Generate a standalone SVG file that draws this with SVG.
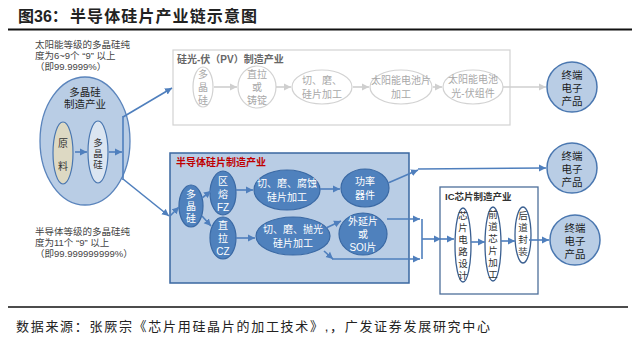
<svg xmlns="http://www.w3.org/2000/svg" width="640" height="337" viewBox="0 0 640 337">
<defs>
<marker id="ab" markerWidth="8" markerHeight="8" refX="7" refY="4" orient="auto" markerUnits="userSpaceOnUse"><path d="M0,0.5 L7,4 L0,7.5 Z" fill="#4f7fbd"/></marker>
<marker id="ag" markerWidth="8" markerHeight="8" refX="7" refY="4" orient="auto" markerUnits="userSpaceOnUse"><path d="M0,0.5 L7,4 L0,7.5 Z" fill="#cfcfcf"/></marker>
<style>
text{font-family:"Liberation Sans","Noto Sans CJK SC",sans-serif;}
.note{font-size:9.5px;fill:#444;}
.pv{fill:#fff;stroke:#d2d2d2;stroke-width:1.2;}
.pvt{font-size:10px;fill:#a8a8a8;text-anchor:middle;}
.dk{fill:#4f81bd;stroke:#3a69a4;stroke-width:1.2;}
.wt{font-size:10px;fill:#fff;text-anchor:middle;}
.ic{fill:#fff;stroke:#3a5f90;stroke-width:1.3;}
.ict{font-size:9.5px;fill:#333;text-anchor:middle;}
.cir{fill:#b9cde5;stroke:#4a77b0;stroke-width:1.5;}
.ct{font-size:10.5px;fill:#1a1a1a;text-anchor:middle;}
.bl{stroke:#4f7fbd;stroke-width:1.6;fill:none;}
.gl{stroke:#cfcfcf;stroke-width:1.6;fill:none;}
</style>
</defs>
<rect width="640" height="337" fill="#fff"/>
<g id="title">
<text x="18" y="22" font-size="16" font-weight="bold" fill="#222">图36：</text>
<text x="70" y="22" font-size="16" font-weight="bold" fill="#222" textLength="187" lengthAdjust="spacing">半导体硅片产业链示意图</text>
<line x1="8" y1="29.5" x2="632" y2="29.5" stroke="#111" stroke-width="2"/>
</g>
<g id="notes">
<text class="note" x="35" y="48">太阳能等级的多晶硅纯<tspan x="35" dy="11">度为6~9个 “9” 以上</tspan><tspan x="35" dy="11">（即99.9999%）</tspan></text>
<text class="note" x="35" y="235">半导体等级的多晶硅纯<tspan x="35" dy="11">度为11个 “9” 以上</tspan><tspan x="35" dy="11">（即99.999999999%）</tspan></text>
</g>
<g id="poly-industry">
<ellipse cx="85" cy="141" rx="45" ry="64" fill="#b9cde5" stroke="#5a84bc" stroke-width="1.3"/>
<text x="85" y="96" font-size="10.5" fill="#222" text-anchor="middle">多晶硅<tspan x="85" dy="12">制造产业</tspan></text>
</g>
<g id="raw">
<ellipse cx="63" cy="153" rx="10" ry="31" fill="#ddd9c3" stroke="#4a77b0" stroke-width="1.2"/>
<text x="63" y="147" font-size="10" fill="#333" text-anchor="middle">原<tspan x="63" dy="23">料</tspan></text>
</g>
<g id="poly-inner">
<ellipse cx="98" cy="152" rx="10" ry="31" fill="#dbe5f1" stroke="#4a77b0" stroke-width="1.2"/>
<text x="98" y="146" font-size="9.5" fill="#333" text-anchor="middle">多<tspan x="98" dy="11">晶</tspan><tspan x="98" dy="11">硅</tspan></text>
</g>
<g id="pv-box">
<rect class="pv" x="173" y="50" width="337" height="75"/>
<text x="177" y="63" font-size="10" font-weight="bold" fill="#666">硅光-伏（PV）制造产业</text>
</g>
<g id="pv1"><ellipse class="pv" cx="203" cy="87" rx="10" ry="20"/>
<text class="pvt" x="203" y="78">多<tspan x="203" dy="13">晶</tspan><tspan x="203" dy="13">硅</tspan></text></g>
<g id="pv2"><ellipse class="pv" cx="257" cy="87" rx="19" ry="21"/>
<text class="pvt" x="257" y="78">直拉<tspan x="257" dy="13">或</tspan><tspan x="257" dy="13">铸锭</tspan></text></g>
<g id="pv3"><ellipse class="pv" cx="322" cy="87" rx="30" ry="17"/>
<text class="pvt" x="322" y="84">切、磨、<tspan x="322" dy="14">硅片加工</tspan></text></g>
<g id="pv4"><ellipse class="pv" cx="401" cy="87" rx="31" ry="17"/>
<text class="pvt" x="401" y="84">太阳能电池片<tspan x="401" dy="14">加工</tspan></text></g>
<g id="pv5"><ellipse class="pv" cx="473" cy="87" rx="30" ry="17"/>
<text class="pvt" x="473" y="83">太阳能电池<tspan x="473" dy="14">光-伏组件</tspan></text></g>
<g id="semi-box">
<rect x="170" y="153" width="239" height="130" fill="#b9cde5" stroke="#3a67a0" stroke-width="1.5"/>
<text x="176" y="166" font-size="10" font-weight="bold" fill="#c00000">半导体硅片制造产业</text>
</g>
<g id="s-poly"><ellipse class="dk" cx="191" cy="206" rx="12" ry="21"/>
<text class="wt" x="191" y="198">多<tspan x="191" dy="12">晶</tspan><tspan x="191" dy="12">硅</tspan></text></g>
<g id="s-fz"><ellipse class="dk" cx="223" cy="193" rx="13" ry="22"/>
<text class="wt" x="223" y="185">区<tspan x="223" dy="13">熔</tspan><tspan x="223" dy="13">FZ</tspan></text></g>
<g id="s-cz"><ellipse class="dk" cx="223" cy="238" rx="13" ry="21"/>
<text class="wt" x="223" y="229">直<tspan x="223" dy="13">拉</tspan><tspan x="223" dy="13">CZ</tspan></text></g>
<g id="s-cut1"><ellipse class="dk" cx="287" cy="190" rx="33" ry="20"/>
<text class="wt" x="287" y="187">切、磨、腐蚀<tspan x="287" dy="14">硅片加工</tspan></text></g>
<g id="s-cut2"><ellipse class="dk" cx="293" cy="236" rx="37" ry="19"/>
<text class="wt" x="293" y="233">切、磨、抛光<tspan x="293" dy="14">硅片加工</tspan></text></g>
<g id="s-power"><ellipse class="dk" cx="365" cy="188" rx="24" ry="19"/>
<text class="wt" x="365" y="185">功率<tspan x="365" dy="14">器件</tspan></text></g>
<g id="s-epi"><ellipse class="dk" cx="363" cy="234" rx="24" ry="21"/>
<text class="wt" x="363" y="225">外延片<tspan x="363" dy="13">或</tspan><tspan x="363" dy="13">SOI片</tspan></text></g>
<g id="ic-box">
<rect x="440" y="187" width="98" height="107" fill="#fff" stroke="#4d6f9a" stroke-width="1.3"/>
<text x="445" y="200" font-size="9.5" font-weight="bold" fill="#333">IC芯片制造产业</text>
</g>
<g id="ic1"><ellipse class="ic" cx="463" cy="245" rx="8" ry="37"/>
<text class="ict" x="463" y="219">芯<tspan x="463" dy="12">片</tspan><tspan x="463" dy="12">电</tspan><tspan x="463" dy="12">路</tspan><tspan x="463" dy="12">设</tspan><tspan x="463" dy="12">计</tspan></text></g>
<g id="ic2"><ellipse class="ic" cx="493" cy="244" rx="8" ry="37"/>
<text class="ict" x="493" y="218">前<tspan x="493" dy="12">道</tspan><tspan x="493" dy="12">芯</tspan><tspan x="493" dy="12">片</tspan><tspan x="493" dy="12">加</tspan><tspan x="493" dy="12">工</tspan></text></g>
<g id="ic3"><ellipse class="ic" cx="523" cy="235" rx="8" ry="28"/>
<text class="ict" x="523" y="219">后<tspan x="523" dy="12">道</tspan><tspan x="523" dy="12">封</tspan><tspan x="523" dy="12">装</tspan></text></g>
<g id="end1"><circle class="cir" cx="572" cy="87" r="25"/>
<text class="ct" x="572" y="79">终端<tspan x="572" dy="13">电子</tspan><tspan x="572" dy="13">产品</tspan></text></g>
<g id="end2"><circle class="cir" cx="572" cy="168" r="25"/>
<text class="ct" x="572" y="160">终端<tspan x="572" dy="13">电子</tspan><tspan x="572" dy="13">产品</tspan></text></g>
<g id="end3"><circle class="cir" cx="575" cy="240" r="25"/>
<text class="ct" x="575" y="232">终端<tspan x="575" dy="13">电子</tspan><tspan x="575" dy="13">产品</tspan></text></g>
<g id="connectors">
<line class="bl" x1="75" y1="152" x2="87" y2="152" marker-end="url(#ab)"/>
<line class="bl" x1="109" y1="152" x2="122" y2="152" marker-end="url(#ab)"/>
<line class="bl" x1="123" y1="116" x2="123" y2="180"/>
<line class="bl" x1="123" y1="117" x2="172" y2="88" marker-end="url(#ab)"/>
<line class="bl" x1="123" y1="179" x2="169" y2="216" marker-end="url(#ab)"/>
<line class="bl" x1="170" y1="216" x2="179" y2="207" marker-end="url(#ab)"/>
<line class="gl" x1="214" y1="87" x2="237" y2="87" marker-end="url(#ag)"/>
<line class="gl" x1="276" y1="87" x2="291" y2="87" marker-end="url(#ag)"/>
<line class="gl" x1="353" y1="87" x2="369" y2="87" marker-end="url(#ag)"/>
<line class="gl" x1="433" y1="87" x2="442" y2="87" marker-end="url(#ag)"/>
<line class="gl" x1="503" y1="87" x2="546" y2="87" marker-end="url(#ag)"/>
<line class="bl" x1="202" y1="198" x2="211" y2="191" marker-end="url(#ab)"/>
<line class="bl" x1="202" y1="216" x2="211" y2="226" marker-end="url(#ab)"/>
<line class="bl" x1="236" y1="190" x2="253" y2="190" marker-end="url(#ab)"/>
<line class="bl" x1="236" y1="238" x2="255" y2="238" marker-end="url(#ab)"/>
<line class="bl" x1="320" y1="189" x2="340" y2="189" marker-end="url(#ab)"/>
<line class="bl" x1="326" y1="228" x2="341" y2="221" marker-end="url(#ab)"/>
<line class="bl" x1="388" y1="183" x2="418" y2="170" marker-end="url(#ab)"/>
<line class="bl" x1="418" y1="169" x2="546" y2="168" marker-end="url(#ab)"/>
<line class="bl" x1="387" y1="219" x2="420" y2="219" marker-end="url(#ab)"/>
<line class="bl" x1="324" y1="251" x2="333" y2="259" marker-end="url(#ab)"/>
<line class="bl" x1="332" y1="259" x2="420" y2="259" marker-end="url(#ab)"/>
<line class="bl" x1="422" y1="219" x2="422" y2="259"/>
<line class="bl" x1="422" y1="239" x2="441" y2="239" marker-end="url(#ab)"/>
<line class="bl" x1="440" y1="239" x2="454" y2="239" marker-end="url(#ab)"/>
<line class="bl" x1="471" y1="242" x2="485" y2="242" marker-end="url(#ab)"/>
<line class="bl" x1="501" y1="241" x2="515" y2="241" marker-end="url(#ab)"/>
<line class="bl" x1="529" y1="240" x2="549" y2="240" marker-end="url(#ab)"/>
</g>
<g id="footer">
<line x1="8" y1="307" x2="628" y2="307" stroke="#111" stroke-width="1.5"/>
<text x="16" y="331" font-size="13" fill="#222" textLength="474" lengthAdjust="spacing">数据来源：张厥宗《芯片用硅晶片的加工技术》,，广发证券发展研究中心</text>
</g>
</svg>
